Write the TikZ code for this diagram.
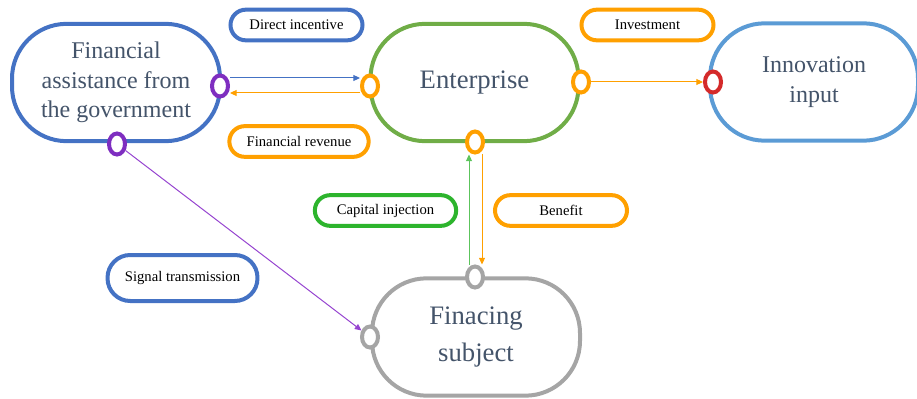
\documentclass[tikz,border=0pt]{standalone}
\usepackage{fontspec}
\setmainfont{Liberation Serif}
\usetikzlibrary{shapes.geometric,arrows.meta}

\definecolor{govblue}{HTML}{4472C4}
\definecolor{entgreen}{HTML}{70AD47}
\definecolor{innoblue}{HTML}{5B9BD5}
\definecolor{subgray}{HTML}{A5A5A5}
\definecolor{flowor}{HTML}{FFA000}
\definecolor{capgreen}{HTML}{2DB42D}
\definecolor{arrgreen}{HTML}{5CC45C}
\definecolor{sigpurple}{HTML}{7E2EC0}
\definecolor{arrpurple}{HTML}{9644D0}
\definecolor{portred}{HTML}{D42A2A}
\definecolor{slate}{HTML}{44546A}

\begin{document}
\begin{tikzpicture}[x=0.75pt, y=-0.75pt,
    actor/.style={draw, line width=3pt, rounded corners=41pt, fill=white, text=slate,
        minimum width=156pt, minimum height=88pt, align=center},
    tag/.style={draw, line width=3pt, rounded corners=11.5pt, fill=white,
        minimum width=99pt, minimum height=23pt, inner xsep=13pt,
        font=\fontsize{11}{13}\selectfont},
    port/.style={ellipse, draw, line width=3pt, fill=white,
        minimum width=12pt, minimum height=15.75pt, inner sep=0pt},
    flow/.style={line width=0.75pt, -{Triangle[length=5pt,width=4.5pt]}}]
    \useasboundingbox (0,0) rectangle (917,399);

    \node[actor, draw=govblue, font=\fontsize{18}{22}\selectfont] (gov) at (116,82.5) {Financial\\assistance from\\the government};
    \node[actor, draw=entgreen, font=\fontsize{20}{24}\selectfont] (ent) at (474.5,82.5) {Enterprise};
    \node[actor, draw=innoblue, font=\fontsize{18}{22.5}\selectfont] (inno) at (814,82) {Innovation\\input};
    \node[actor, draw=subgray, font=\fontsize{20}{27.75}\selectfont] (sub) at (476,337) {Finacing\\subject};

    \node[tag, draw=govblue] (incent) at (296.5,25) {Direct incentive};
    \node[tag, draw=flowor] (invest) at (647.5,25) {Investment};
    \node[tag, draw=flowor, minimum width=103pt] (revenue) at (299,141.5) {Financial revenue};
    \node[tag, draw=capgreen, minimum width=106pt] (inject) at (385.5,210.5) {Capital injection};
    \node[tag, draw=flowor] (benefit) at (561,210.5) {Benefit};
    \node[tag, draw=govblue, minimum width=112pt, minimum height=34.5pt, rounded corners=17pt] (signal) at (182.5,278) {Signal transmission};

    \node[port, draw=sigpurple] (pg) at (220,86) {};
    \node[port, draw=sigpurple] (pgb) at (117,144) {};
    \node[port, draw=flowor] (pel) at (370,86) {};
    \node[port, draw=flowor] (per) at (581,82) {};
    \node[port, draw=flowor] (peb) at (475,142) {};
    \node[port, draw=portred] (pin) at (713,82) {};
    \node[port, draw=subgray] (pft) at (475,277) {};
    \node[port, draw=subgray] (pfl) at (370,337) {};

    \draw[flow, govblue] ([yshift=6pt]pg.east) -- ([yshift=6pt]pel.west);
    \draw[flow, flowor] ([yshift=-5.25pt]pel.west) -- ([yshift=-5.25pt]pg.east);
    \draw[flow, flowor] (per) -- (pin);
    \draw[flow, arrpurple] (pgb) -- (pfl);
    \draw[flow, arrgreen] ([xshift=-4.5pt]pft.north) -- ([xshift=-4.5pt]peb.south);
    \draw[flow, flowor] ([xshift=5.25pt]peb.south) -- ([xshift=5.25pt]pft.north);
\end{tikzpicture}
\end{document}
